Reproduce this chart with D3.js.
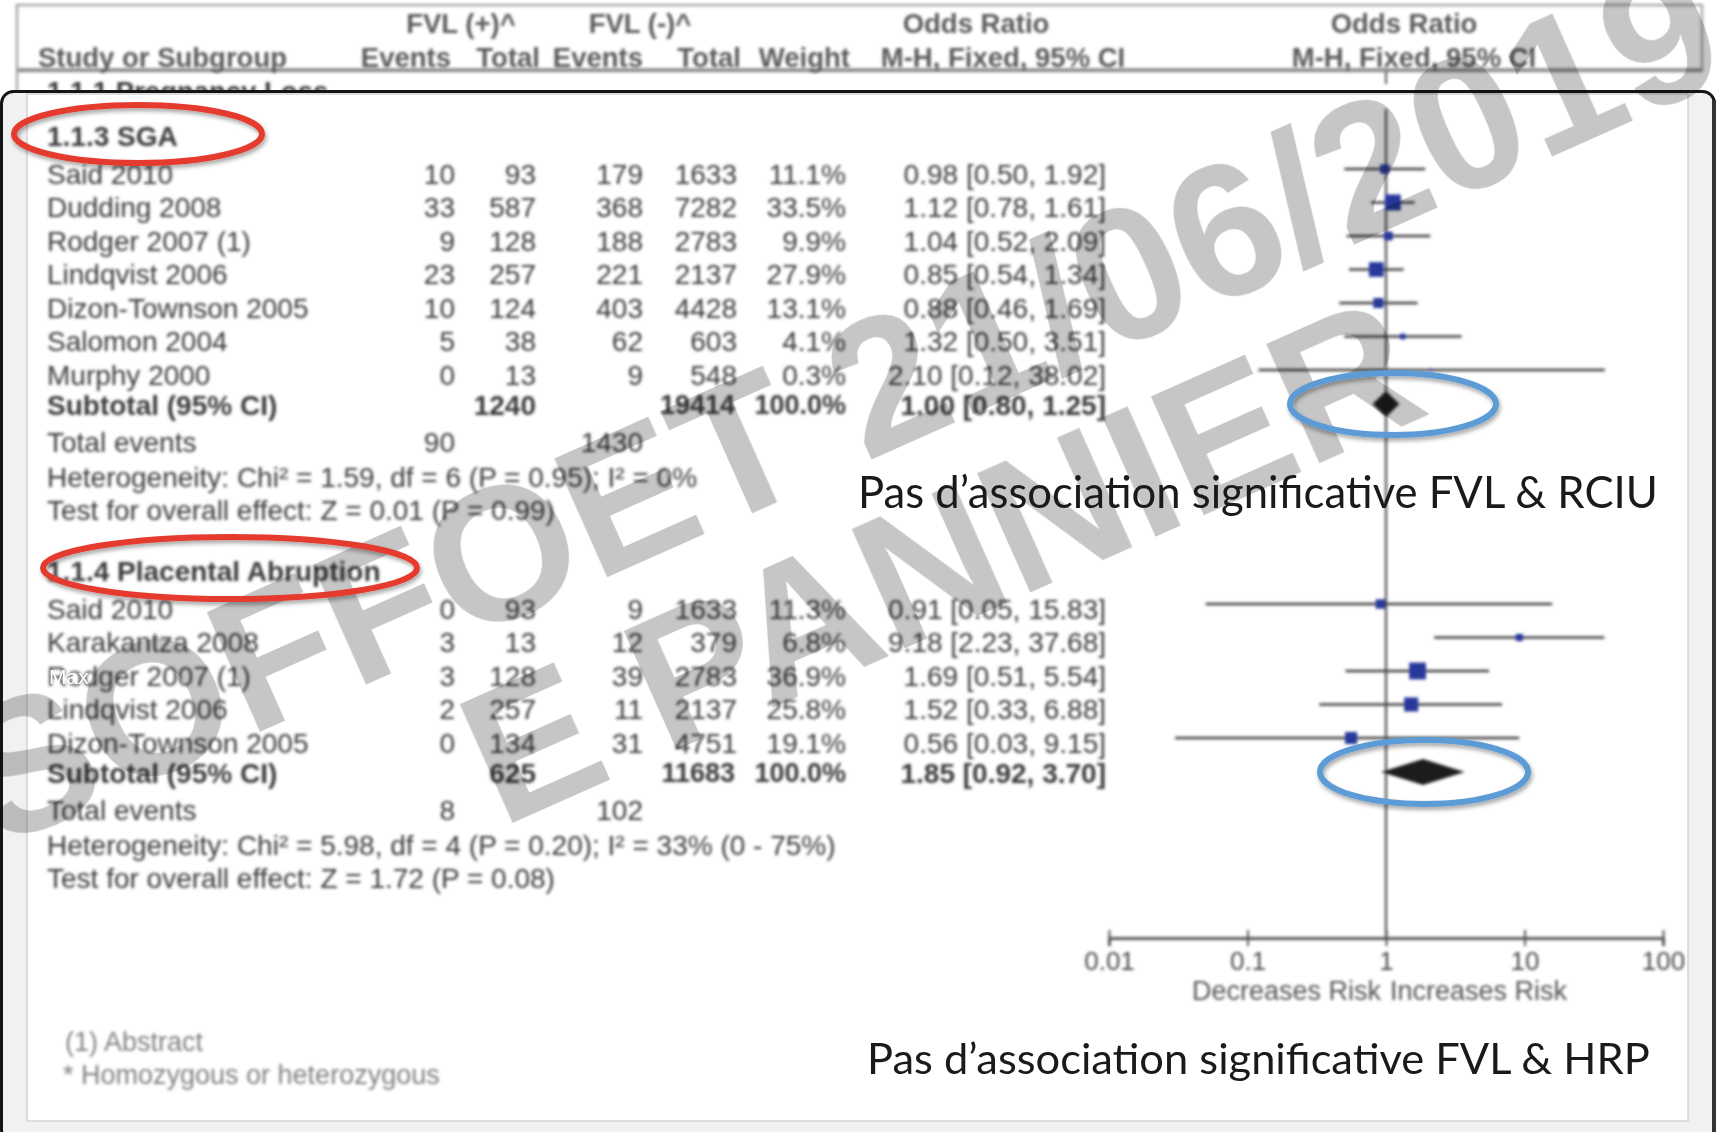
<!DOCTYPE html>
<html>
<head>
<meta charset="utf-8">
<script src="https://cdn.jsdelivr.net/npm/d3@7"></script>
<style>
  html, body { margin: 0; padding: 0; background: #fff; overflow: hidden; }
  svg { display: block; }
</style>
</head>
<body>
<svg id="chart" width="1716" height="1132"></svg>
<script>
// ---- 1.1.3 SGA ----
const sgaStudies   = ["Said 2010", "Dudding 2008", "Rodger 2007 (1)", "Lindqvist 2006", "Dizon-Townson 2005", "Salomon 2004", "Murphy 2000"];
const sgaEventsPos = [10, 33, 9, 23, 10, 5, 0];
const sgaTotalPos  = [93, 587, 128, 257, 124, 38, 13];
const sgaEventsNeg = [179, 368, 188, 221, 403, 62, 9];
const sgaTotalNeg  = [1633, 7282, 2783, 2137, 4428, 603, 548];
const sgaWeight    = [11.1, 33.5, 9.9, 27.9, 13.1, 4.1, 0.3];
const sgaOR        = [0.98, 1.12, 1.04, 0.85, 0.88, 1.32, 2.10];
const sgaLow       = [0.50, 0.78, 0.52, 0.54, 0.46, 0.50, 0.12];
const sgaHigh      = [1.92, 1.61, 2.09, 1.34, 1.69, 3.51, 38.02];
const sgaPooled    = [1.00, 0.80, 1.25];
const sgaStats     = ["Heterogeneity: Chi² = 1.59, df = 6 (P = 0.95); I² = 0%",
                      "Test for overall effect: Z = 0.01 (P = 0.99)"];

// ---- 1.1.4 Placental Abruption ----
const hrpStudies   = ["Said 2010", "Karakantza 2008", "Rodger 2007 (1)", "Lindqvist 2006", "Dizon-Townson 2005"];
const hrpEventsPos = [0, 3, 3, 2, 0];
const hrpTotalPos  = [93, 13, 128, 257, 134];
const hrpEventsNeg = [9, 12, 39, 11, 31];
const hrpTotalNeg  = [1633, 379, 2783, 2137, 4751];
const hrpWeight    = [11.3, 6.8, 36.9, 25.8, 19.1];
const hrpOR        = [0.91, 9.18, 1.69, 1.52, 0.56];
const hrpLow       = [0.05, 2.23, 0.51, 0.33, 0.03];
const hrpHigh      = [15.83, 37.68, 5.54, 6.88, 9.15];
const hrpPooled    = [1.85, 0.92, 3.70];
const hrpStats     = ["Heterogeneity: Chi² = 5.98, df = 4 (P = 0.20); I² = 33% (0 - 75%)",
                      "Test for overall effect: Z = 1.72 (P = 0.08)"];

const axisTicks   = [0.01, 0.1, 1, 10, 100];
const axisLabels  = ["Decreases Risk", "Increases Risk"];
const footnotes   = ["(1) Abstract", "* Homozygous or heterozygous"];
const conclusions = ["Pas d’association significative FVL & RCIU", "Pas d’association significative FVL & HRP"];

// ---------------------------------------------------------------
const svg = d3.select("#chart");
const defs = svg.append("defs");
defs.append("filter").attr("id", "soft")
  .attr("x", "-2%").attr("y", "-2%").attr("width", "104%").attr("height", "104%")
  .append("feGaussianBlur").attr("stdDeviation", 1.45);
const shadow = defs.append("filter").attr("id", "shadow")
  .attr("x", "-20%").attr("y", "-50%").attr("width", "140%").attr("height", "200%");
shadow.append("feDropShadow").attr("dx", 1.5).attr("dy", 3).attr("stdDeviation", 2.2)
  .attr("flood-color", "#000").attr("flood-opacity", 0.35);

const FONT = "'Liberation Sans', Arial, sans-serif";
const TXT = "#3a3a3a";
const HEAD = "#5a5a5a";

// log odds-ratio scale
const x = d3.scaleLog().domain([0.01, 100]).range([1109, 1663]);
const sq = d3.scaleSqrt().domain([0, 40]).range([0, 17.5]);
const fmt2 = d3.format(".2f");
const fmtW = d3.format(".1f");

// table column right edges
const COL = { evPos: 455, totPos: 536, evNeg: 643, totNeg: 737, weight: 846, or: 1106 };
const LEFT = 47;

// ---- column header strip ----
const hdr = svg.append("g").attr("filter", "url(#soft)").style("font-family", FONT)
  .attr("font-weight", "bold").attr("fill", HEAD).attr("font-size", 27.5);
hdr.append("rect").attr("x", 17).attr("y", 5).attr("width", 1685).attr("height", 66)
  .attr("fill", "none").attr("stroke", "#a8a8a8").attr("stroke-width", 2.5);
hdr.append("line").attr("x1", 17).attr("x2", 1702).attr("y1", 70).attr("y2", 70)
  .attr("stroke", "#8a8a8a").attr("stroke-width", 3.5);
hdr.append("line").attr("x1", 17).attr("x2", 17).attr("y1", 70).attr("y2", 92)
  .attr("stroke", "#a8a8a8").attr("stroke-width", 2.5);
hdr.append("line").attr("x1", x(1)).attr("x2", x(1)).attr("y1", 71).attr("y2", 84)
  .attr("stroke", "#555").attr("stroke-width", 2);
const hdrText = [
  { t: "FVL (+)^", x: 461, y: 33, a: "middle" },
  { t: "FVL (-)^", x: 640, y: 33, a: "middle" },
  { t: "Odds Ratio", x: 976, y: 33, a: "middle" },
  { t: "Odds Ratio", x: 1404, y: 33, a: "middle" },
  { t: "Study or Subgroup", x: 38, y: 67, a: "start" },
  { t: "Events", x: COL.evPos - 4, y: 67, a: "end" },
  { t: "Total", x: COL.totPos + 4, y: 67, a: "end" },
  { t: "Events", x: COL.evNeg, y: 67, a: "end" },
  { t: "Total", x: COL.totNeg + 4, y: 67, a: "end" },
  { t: "Weight", x: COL.weight + 4, y: 67, a: "end" },
  { t: "M-H, Fixed, 95% CI", x: 1003, y: 67, a: "middle" },
  { t: "M-H, Fixed, 95% CI", x: 1414, y: 67, a: "middle" }
];
hdr.selectAll("text.h").data(hdrText).join("text").attr("class", "h")
  .attr("x", d => d.x).attr("y", d => d.y).attr("text-anchor", d => d.a).text(d => d.t);
hdr.append("text").attr("x", LEFT).attr("y", 101).text("1.1.1 Pregnancy Loss").attr("fill", TXT);

// ---- framed panel ----
svg.append("rect").attr("x", 1.5).attr("y", 91.5).attr("width", 1713).attr("height", 1050)
  .attr("rx", 12).attr("fill", "#f1f1f1").attr("stroke", "#151515").attr("stroke-width", 3);
svg.append("rect").attr("x", 1712).attr("y", 100).attr("width", 4).attr("height", 1032).attr("fill", "#333");
svg.append("rect").attr("x", 27).attr("y", 94).attr("width", 1661).attr("height", 1027)
  .attr("fill", "#fff").attr("stroke", "#d4d4d4").attr("stroke-width", 1.5);

// ---- forest plot body ----
const fg = svg.append("g").attr("filter", "url(#soft)").style("font-family", FONT)
  .attr("font-size", 28).attr("fill", TXT);

// line of no effect
fg.append("line").attr("x1", x(1)).attr("x2", x(1)).attr("y1", 109).attr("y2", 939)
  .attr("stroke", "#505050").attr("stroke-width", 2.2);

function subgroup(g) {
  const rows = g.studies.map((s, i) => ({
    name: s, ep: g.ep[i], tp: g.tp[i], en: g.en[i], tn: g.tn[i],
    w: g.w[i], or: g.or[i], lo: g.lo[i], hi: g.hi[i], y: g.y0 + 38 + i * 33.5
  }));
  const ySub = rows[rows.length - 1].y + 30;
  const yTot = ySub + 37, yHet = yTot + 35, yTest = yHet + 33;

  fg.append("text").attr("x", LEFT).attr("y", g.y0).attr("dy", "0.35em")
    .attr("font-weight", "bold").text(g.title);

  const r = fg.selectAll(null).data(rows).join("g");
  r.append("text").attr("x", LEFT).attr("y", d => d.y).attr("dy", "0.35em").text(d => d.name);
  const cells = [["evPos", "ep", d3.format("d")], ["totPos", "tp", d3.format("d")],
                 ["evNeg", "en", d3.format("d")], ["totNeg", "tn", d3.format("d")],
                 ["weight", "w", v => fmtW(v) + "%"]];
  cells.forEach(([c, k, f]) => {
    r.append("text").attr("x", COL[c]).attr("y", d => d.y).attr("dy", "0.35em")
      .attr("text-anchor", "end").text(d => f(d[k]));
  });
  r.append("text").attr("x", COL.or).attr("y", d => d.y).attr("dy", "0.35em")
    .attr("text-anchor", "end")
    .text(d => `${fmt2(d.or)} [${fmt2(d.lo)}, ${fmt2(d.hi)}]`);

  // confidence intervals and weighted squares
  r.append("line").attr("x1", d => x(d.lo)).attr("x2", d => x(d.hi))
    .attr("y1", d => d.y - 5).attr("y2", d => d.y - 5)
    .attr("stroke", "#404040").attr("stroke-width", 2.4);
  r.append("rect")
    .attr("x", d => x(d.or) - Math.max(3, sq(d.w)) / 2)
    .attr("y", d => d.y - 5 - Math.max(3, sq(d.w)) / 2)
    .attr("width", d => Math.max(3, sq(d.w)))
    .attr("height", d => Math.max(3, sq(d.w)))
    .attr("fill", "#27389a");

  // subtotal row
  const sub = fg.append("g").attr("font-weight", "bold");
  sub.append("text").attr("x", LEFT).attr("y", ySub).attr("dy", "0.35em").text("Subtotal (95% CI)");
  sub.append("text").attr("x", COL.totPos).attr("y", ySub).attr("dy", "0.35em").attr("text-anchor", "end")
    .text(d3.sum(g.tp));
  sub.append("text").attr("x", COL.totNeg - 2).attr("y", ySub).attr("dy", "0.35em").attr("text-anchor", "end")
    .attr("font-size", 27).text(d3.sum(g.tn));
  sub.append("text").attr("x", COL.weight).attr("y", ySub).attr("dy", "0.35em").attr("text-anchor", "end")
    .attr("font-size", 27).text("100.0%");
  sub.append("text").attr("x", COL.or).attr("y", ySub).attr("dy", "0.35em").attr("text-anchor", "end")
    .text(`${fmt2(g.pooled[0])} [${fmt2(g.pooled[1])}, ${fmt2(g.pooled[2])}]`);
  const dy = ySub - 1, dh = 13;
  fg.append("path")
    .attr("d", `M${x(g.pooled[1])},${dy} L${x(g.pooled[0])},${dy - dh} L${x(g.pooled[2])},${dy} L${x(g.pooled[0])},${dy + dh} Z`)
    .attr("fill", "#1e1e1e");

  fg.append("text").attr("x", LEFT).attr("y", yTot).attr("dy", "0.35em").text("Total events");
  fg.append("text").attr("x", COL.evPos).attr("y", yTot).attr("dy", "0.35em").attr("text-anchor", "end")
    .text(d3.sum(g.ep));
  fg.append("text").attr("x", COL.evNeg).attr("y", yTot).attr("dy", "0.35em").attr("text-anchor", "end")
    .text(d3.sum(g.en));
  fg.append("text").attr("x", LEFT).attr("y", yHet).attr("dy", "0.35em").text(g.stats[0]);
  fg.append("text").attr("x", LEFT).attr("y", yTest).attr("dy", "0.35em").text(g.stats[1]);
}

subgroup({ title: "1.1.3 SGA", y0: 136, studies: sgaStudies, ep: sgaEventsPos, tp: sgaTotalPos,
  en: sgaEventsNeg, tn: sgaTotalNeg, w: sgaWeight, or: sgaOR, lo: sgaLow, hi: sgaHigh,
  pooled: sgaPooled, stats: sgaStats });
subgroup({ title: "1.1.4 Placental Abruption", y0: 571, studies: hrpStudies, ep: hrpEventsPos, tp: hrpTotalPos,
  en: hrpEventsNeg, tn: hrpTotalNeg, w: hrpWeight, or: hrpOR, lo: hrpLow, hi: hrpHigh,
  pooled: hrpPooled, stats: hrpStats });

// odds-ratio axis
const ax = fg.append("g").attr("transform", "translate(0,938)")
  .call(d3.axisBottom(x).tickValues(axisTicks).tickFormat(d3.format("~g")).tickSize(8).tickPadding(6));
ax.select(".domain").attr("stroke", "#555").attr("stroke-width", 3);
ax.selectAll(".tick line").attr("y1", -8).attr("stroke", "#555").attr("stroke-width", 2);
ax.selectAll(".tick text").attr("font-size", 26).attr("fill", "#4a4a4a").style("font-family", FONT);
fg.append("text").attr("x", x(1) - 5).attr("y", 1000).attr("text-anchor", "end")
  .attr("font-size", 27).attr("fill", "#555").text(axisLabels[0]);
fg.append("text").attr("x", x(1) + 4).attr("y", 1000).attr("text-anchor", "start")
  .attr("font-size", 27).attr("fill", "#555").text(axisLabels[1]);

// footnotes
fg.selectAll("text.fn").data(footnotes).join("text").attr("class", "fn")
  .attr("x", (d, i) => i ? 63 : 65).attr("y", (d, i) => 1051 + i * 33)
  .attr("font-size", 27).attr("fill", "#808080").text(d => d);

// ---- watermark ----
const wm = svg.append("g").attr("transform", "translate(866,462) rotate(-24)")
  .style("mix-blend-mode", "multiply")
  .style("font-family", FONT).attr("font-weight", "bold").attr("fill", "#c6c6c6")
  .attr("text-anchor", "middle").attr("font-size", 190);
wm.append("text").attr("x", 0).attr("y", 0).text("SOFFOET 21/06/2019");
wm.append("text").attr("x", 28).attr("y", 186).text("E PANNIER");

svg.append("text").attr("x", 49).attr("y", 684).attr("font-size", 21)
  .style("font-family", FONT).attr("fill", "#fff").text("Max");

// ---- highlight ellipses ----
const ell = [
  { cx: 138, cy: 134, rx: 124, ry: 29, c: "#e53b2e" },
  { cx: 230, cy: 568, rx: 187, ry: 31, c: "#e53b2e" },
  { cx: 1393, cy: 404, rx: 103, ry: 31, c: "#5b9bd5" },
  { cx: 1424, cy: 772, rx: 104, ry: 32, c: "#5b9bd5" }
];
svg.selectAll("ellipse").data(ell).join("ellipse")
  .attr("cx", d => d.cx).attr("cy", d => d.cy).attr("rx", d => d.rx).attr("ry", d => d.ry)
  .attr("fill", "none").attr("stroke", d => d.c).attr("stroke-width", 6)
  .attr("filter", "url(#shadow)");

// ---- conclusions ----
const concl = [{ t: conclusions[0], x: 858, y: 508, w: 800 }, { t: conclusions[1], x: 867, y: 1074, w: 783 }];
concl.forEach(c => {
  const t = svg.append("text").attr("x", c.x).attr("y", c.y)
    .style("font-family", "Lato, 'Open Sans', sans-serif").attr("font-size", 40)
    .attr("fill", "#1a1a1a").text(c.t);
  const len = t.node().getComputedTextLength();
  t.attr("font-size", 40 * c.w / len);
});
</script>
</body>
</html>
